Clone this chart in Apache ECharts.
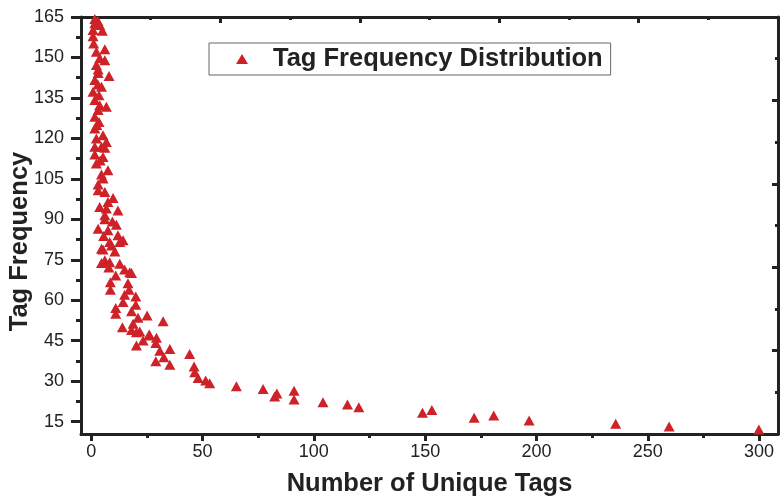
<!DOCTYPE html>
<html>
<head>
<meta charset="utf-8">
<script src="https://cdn.jsdelivr.net/npm/echarts@6/dist/echarts.min.js"></script>
<style>html,body{margin:0;padding:0;background:#fff}#c{width:780px;height:497px}</style>
</head>
<body>
<div id="c"></div>
<script>
var seriesName = 'Tag Frequency Distribution';
var xTitle = 'Number of Unique Tags';
var yTitle = 'Tag Frequency';
var xTickValues = [0, 50, 100, 150, 200, 250, 300];
var xMinorValues = [25, 75, 125, 175, 225, 275];
var yTickValues = [15, 30, 45, 60, 75, 90, 105, 120, 135, 150, 165];
var yMinorValues = [22.5, 37.5, 52.5, 67.5, 82.5, 97.5, 112.5, 127.5, 142.5, 157.5];

var uniqueTags = [
  1.6, 3.0, 1.6, 3.8, 0.8, 5.0, 0.8, 1.1, 6.1, 2.3, 3.8, 6.1, 2.3, 3.1, 3.1, 8.0, 1.6, 4.6, 3.0, 0.8,
  3.5, 1.6, 3.8, 6.8, 3.1, 1.6, 3.5, 1.6, 2.5, 5.3, 2.3, 6.8, 4.6, 1.6, 6.1,
  1.6, 5.3, 2.3, 4.0, 7.5, 4.6, 5.3, 3.1, 3.1, 6.1, 9.8, 7.5, 3.8, 6.8, 12.0, 6.1, 6.1, 9.5, 11.3, 3.1,
  7.5, 5.6, 12.0, 14.3, 9.1, 5.3, 10.6, 6.1, 12.8, 15.0, 17.3, 8.3, 12.8, 4.6,
  4.6, 8.3, 7.9, 18.1, 11.0, 8.6, 16.5, 8.6, 17.0, 15.0, 20.0, 14.3, 20.0, 11.0, 18.1, 11.0, 21.0, 25.1,
  32.3, 14.0, 18.8, 18.1, 21.8, 26.0, 29.3, 23.3, 29.0, 20.3, 30.8, 35.3, 32.6, 29.0, 35.3, 44.2, 46.2,
  46.5, 48.0, 51.4, 53.2, 65.2, 77.2, 26.3, 20.3,
  82.4, 83.4, 91.1, 91.1, 104.1, 115.1, 120.2, 148.8, 153.0, 172.0, 180.8, 196.7, 235.6, 259.6, 299.9
];
var tagFrequency = [
  164.3, 163.5, 162.7, 162.0, 160.2, 159.9, 157.9, 155.2, 153.0, 152.1, 149.7, 149.0, 147.2, 145.5, 144.2, 143.1, 141.6, 139.1, 140.0, 137.3,
  136.0, 134.2, 132.3, 131.7, 130.5, 128.0, 126.1, 123.7, 125.0, 121.2, 120.0, 118.7, 116.9, 116.9, 116.5,
  114.0, 113.1, 110.7, 111.8, 108.2, 106.6, 105.1, 102.9, 100.8, 100.1, 97.9, 96.4, 94.6, 94.0, 93.3, 91.5, 90.0, 89.2, 88.0, 86.5,
  85.9, 83.8, 84.1, 82.2, 80.3, 78.8, 78.1, 74.8, 73.5, 71.4, 70.4, 81.6, 81.6, 79.1,
  73.8, 74.1, 72.1, 70.1, 69.2, 66.7, 66.3, 63.9, 63.9, 62.0, 61.4, 59.3, 58.3, 57.1, 55.9, 55.0, 53.5, 54.3,
  52.2, 50.0, 51.3, 49.0, 48.4, 47.3, 46.1, 45.1, 44.1, 43.2, 41.3, 41.9, 38.9, 37.4, 36.1, 40.1, 35.4,
  33.3, 31.2, 30.2, 29.2, 28.1, 27.1, 46.9, 48.1,
  24.3, 25.4, 26.4, 23.2, 22.2, 21.3, 20.3, 18.3, 19.3, 16.4, 17.3, 15.4, 14.2, 13.2, 12.1
];

var points = uniqueTags.map(function (x, i) { return [x, tagFrequency[i]]; });

var ink = '#222222';
var font = '"Liberation Sans", Arial, sans-serif';
var chart = echarts.init(document.getElementById('c'), null, { renderer: 'canvas' });
chart.setOption({
  backgroundColor: '#ffffff',
  animation: false,
  textStyle: { fontFamily: font },
  grid: { left: 81, right: 2, top: 17, bottom: 63, containLabel: false, outerBoundsMode: 'none' },
  legend: {
    left: 209, top: 43,
    padding: [3, 8, 3, 27],
    borderColor: '#666666', borderWidth: 1,
    itemWidth: 12, itemHeight: 10,
    data: [{ name: seriesName, icon: 'triangle' }],
    textStyle: { fontSize: 25.5, fontWeight: 'bold', color: ink, fontFamily: font, padding: [0, 0, 0, 20] }
  },
  xAxis: [
    {
      type: 'value', min: -4.6, max: 308.5, position: 'bottom',
      name: xTitle, nameLocation: 'middle', nameGap: 37,
      nameTextStyle: { fontSize: 25.5, fontWeight: 'bold', color: ink, fontFamily: font },
      axisLine: { show: true, onZero: false, lineStyle: { color: ink, width: 3 } },
      axisTick: { show: true, customValues: xTickValues, length: 7, lineStyle: { color: ink, width: 3 } },
      axisLabel: { show: true, customValues: xTickValues, fontSize: 18, color: ink, margin: 9, fontFamily: font },
      splitLine: { show: false }
    },
    {
      type: 'value', min: -4.6, max: 308.5, position: 'bottom',
      axisLine: { show: false, onZero: false },
      axisTick: { show: true, customValues: xMinorValues, length: 4, lineStyle: { color: ink, width: 3 } },
      axisLabel: { show: false },
      splitLine: { show: false }
    },
    {
      type: 'value', min: 0, max: 10, interval: 2, position: 'top',
      axisLine: { show: true, onZero: false, lineStyle: { color: ink, width: 3 } },
      axisTick: { show: true, inside: true, length: 6, lineStyle: { color: ink, width: 3 } },
      minorTick: { show: true, splitNumber: 2, length: 3, lineStyle: { color: ink, width: 3 } },
      axisLabel: { show: false },
      splitLine: { show: false }
    }
  ],
  yAxis: [
    {
      type: 'value', min: 10.4, max: 165, position: 'left',
      name: yTitle, nameLocation: 'middle', nameGap: 48, nameMoveOverlap: false,
      nameTextStyle: { fontSize: 25.5, fontWeight: 'bold', color: ink, fontFamily: font, padding: [0, 32, 0, 0] },
      axisLine: { show: true, onZero: false, lineStyle: { color: ink, width: 3 } },
      axisTick: { show: true, customValues: yTickValues, length: 10, lineStyle: { color: ink, width: 3 } },
      axisLabel: { show: true, customValues: yTickValues, fontSize: 18, color: ink, margin: 17, fontFamily: font },
      splitLine: { show: false }
    },
    {
      type: 'value', min: 10.4, max: 165, position: 'left',
      axisLine: { show: false, onZero: false },
      axisTick: { show: true, customValues: yMinorValues, length: 5, lineStyle: { color: ink, width: 3 } },
      axisLabel: { show: false },
      splitLine: { show: false }
    },
    {
      type: 'value', min: 0, max: 10, interval: 2, position: 'right',
      axisLine: { show: true, onZero: false, lineStyle: { color: ink, width: 3 } },
      axisTick: { show: true, inside: true, length: 6, lineStyle: { color: ink, width: 3 } },
      minorTick: { show: true, splitNumber: 2, length: 3, lineStyle: { color: ink, width: 3 } },
      axisLabel: { show: false },
      splitLine: { show: false }
    }
  ],
  series: [
    {
      name: seriesName, type: 'scatter', xAxisIndex: 0, yAxisIndex: 0,
      symbol: 'triangle', symbolSize: [11, 10],
      itemStyle: { color: '#CE2229', opacity: 1 },
      data: points, clip: true, z: 1
    }
  ]
});
</script>
</body>
</html>
